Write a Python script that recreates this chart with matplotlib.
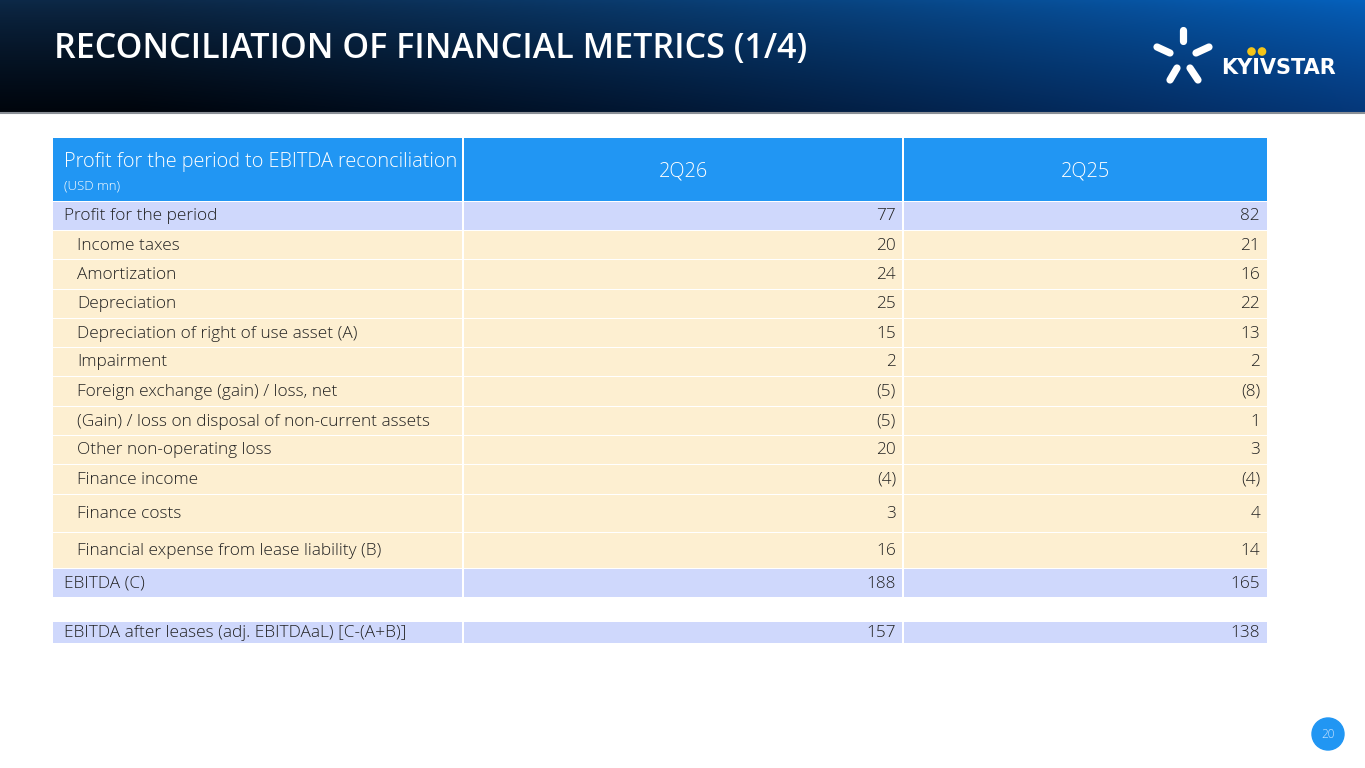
import numpy as np
import matplotlib
matplotlib.use("Agg")
import matplotlib.pyplot as plt
from matplotlib.patches import Rectangle, Circle

# ---------------- data ----------------
title = "RECONCILIATION OF FINANCIAL METRICS (1/4)"
header_label = "Profit for the period to EBITDA reconciliation"
header_unit = "(USD mn)"
periods = ["2Q26", "2Q25"]
labels = [
    "Profit for the period",
    "Income taxes",
    "Amortization",
    "Depreciation",
    "Depreciation of right of use asset (A)",
    "Impairment",
    "Foreign exchange (gain) / loss, net",
    "(Gain) / loss on disposal of non-current assets",
    "Other non-operating loss",
    "Finance income",
    "Finance costs",
    "Financial expense from lease liability (B)",
    "EBITDA (C)",
    "EBITDA after leases (adj. EBITDAaL) [C-(A+B)]",
]
values_2q26 = ["77", "20", "24", "25", "15", "2", "(5)", "(5)", "20", "(4)", "3", "16", "188", "157"]
values_2q25 = ["82", "21", "16", "22", "13", "2", "(8)", "1", "3", "(4)", "4", "14", "165", "138"]
row_kind = ["total", "item", "item", "item", "item", "item", "item", "item", "item", "item",
            "item", "item", "total", "total"]
page_number = "20"

# ---------------- layout (pixels) ----------------
W, H = 1365, 768
row_top = [202, 231, 260, 290, 319, 348, 377, 407, 436, 465, 495, 533, 569, 622]
row_bot = [230, 259, 289, 318, 347, 376, 406, 435, 464, 494, 532, 568, 597, 643]
col_x = [(53, 462), (464, 902), (904, 1267)]

C_HEAD = "#2196f3"
C_TOTAL = "#cfd8fc"
C_ITEM = "#fdefd1"
C_TEXT = "#222222"
FONT = "Open Sans"
BODY_W = 300
BODY_FS = 12.4

fig = plt.figure(figsize=(W / 100, H / 100), dpi=100)
ax = fig.add_axes([0, 0, 1, 1])
ax.set_xlim(0, W)
ax.set_ylim(H, 0)
ax.axis("off")

# header gradient band
nx, ny = 400, 60
xs = np.linspace(0, 1, nx)[None, :]
ys = np.linspace(0, 1, ny)[:, None]
t = np.clip(xs ** 1.3 * 1.05 - 0.05, 0, 1)
left_top = np.array([0.05, 0.16, 0.28])
left_bot = np.array([0.0, 0.02, 0.05])
right_top = np.array([0.02, 0.38, 0.74])
right_bot = np.array([0.02, 0.22, 0.48])
top = left_top[None, None, :] * (1 - t[..., None]) + right_top[None, None, :] * t[..., None]
bot = left_bot[None, None, :] * (1 - t[..., None]) + right_bot[None, None, :] * t[..., None]
v = (ys ** 0.8)[..., None]
img = top * (1 - v) + bot * v
ax.imshow(img, extent=[0, W, 112, 0], aspect="auto", interpolation="bilinear", zorder=0)
ax.plot([0, W], [112.5, 112.5], color="#8a8f96", lw=1.5, zorder=1)

ax.text(54, 49, title, color="white", fontsize=24.5, fontfamily=FONT, fontweight="semibold",
        va="center", ha="left", zorder=2)

# logo
lw = 5.2
strokes = [((1183, 30), (1183, 41)), ((1157, 47), (1170, 53)), ((1209, 47), (1196, 53)),
           ((1177, 68), (1170, 80)), ((1190, 68), (1198, 80))]
for (x0, y0), (x1, y1) in strokes:
    ax.plot([x0, x1], [y0, y1], color="white", lw=lw, solid_capstyle="round", zorder=3)
ax.text(1221, 67.5, "KYIVSTAR", color="white", fontsize=15, fontfamily="DejaVu Sans",
        fontweight="bold", va="center", ha="left", zorder=3)
for cx in (1251.5, 1262):
    ax.add_patch(Circle((cx, 51.5), 3.6, color="#f5c518", zorder=3))

# table header
hy0, hy1 = 138, 201
for (x0, x1) in col_x:
    ax.add_patch(Rectangle((x0, hy0), x1 - x0, hy1 - hy0, color=C_HEAD, lw=0, zorder=1))
ax.text(64, 162, header_label, color="white", fontsize=14.3, fontfamily=FONT, fontweight=BODY_W,
        va="center", ha="left", zorder=2)
ax.text(64, 186, header_unit, color="white", fontsize=9.5, fontfamily=FONT, fontweight=BODY_W,
        va="center", ha="left", zorder=2)
for (x0, x1), p in zip(col_x[1:], periods):
    ax.text((x0 + x1) / 2, 171, p, color="white", fontsize=14.3, fontfamily=FONT, fontweight=BODY_W,
            va="center", ha="center", zorder=2)

# table body
for i, lab in enumerate(labels):
    y0, y1 = row_top[i], row_bot[i]
    c = C_TOTAL if row_kind[i] == "total" else C_ITEM
    for (x0, x1) in col_x:
        ax.add_patch(Rectangle((x0, y0), x1 - x0, y1 - y0, color=c, lw=0, zorder=1))
    yc = (y0 + y1) / 2 + 0.5
    indent = 64 if row_kind[i] == "total" else 77
    ax.text(indent, yc, lab, color=C_TEXT, fontsize=BODY_FS, fontfamily=FONT, fontweight=BODY_W,
            va="center", ha="left", zorder=2)
    ax.text(col_x[1][1] - 6, yc, values_2q26[i], color=C_TEXT, fontsize=BODY_FS, fontfamily=FONT,
            fontweight=BODY_W, va="center", ha="right", zorder=2)
    ax.text(col_x[2][1] - 7, yc, values_2q25[i], color=C_TEXT, fontsize=BODY_FS, fontfamily=FONT,
            fontweight=BODY_W, va="center", ha="right", zorder=2)

# page number
ax.add_patch(Circle((1328, 734), 16, color=C_HEAD, zorder=2))
ax.text(1328, 734.5, page_number, color="#cfe6ff", fontsize=8.5, fontfamily=FONT, fontweight=BODY_W,
        va="center", ha="center", zorder=3)

fig.savefig("out.png", dpi=100)
